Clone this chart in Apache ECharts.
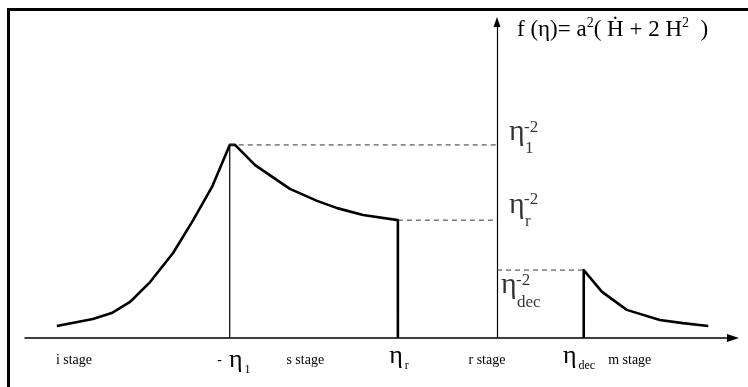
<!DOCTYPE html>
<html>
<head>
<meta charset="utf-8">
<script src="https://cdn.jsdelivr.net/npm/echarts@6/dist/echarts.min.js"></script>
<style>
html, body { margin: 0; padding: 0; background: #fff; }
body { position: relative; width: 748px; height: 387px; overflow: hidden; }
#frame { position: absolute; left: 7px; top: 8px; width: 760px; height: 400px; border-top: 3px solid #000; border-left: 3px solid #000; }
#chart { position: absolute; left: 0; top: 0; width: 748px; height: 387px; }
</style>
</head>
<body>
<div id="frame"></div>
<div id="chart"></div>
<script>
// conformal time of the transitions, and the level of f at each of them
var eta1 = -45.3, etaR = -16.8, etaDec = 14.7;
var level1 = 61.1, levelR = 37.3, levelDec = 21.5;

// i stage rising up to -eta1, then s stage decaying to eta_r
var earlyX = [-74.6, -68.5, -65.3, -62.2, -58.8, -54.9, -51.5, -48.3, eta1, -44.4, -41.0, -35.1, -30.5, -27.1, -22.7, etaR, etaR];
var earlyY = [3.8, 6.0, 7.9, 11.4, 17.7, 26.9, 37.3, 47.8, level1, level1, 54.7, 47.2, 43.4, 41.1, 38.9, levelR, 0];

// m stage after eta_dec
var lateX = [etaDec, etaDec, 17.8, 22.0, 27.6, 31.5, 35.8];
var lateY = [0, levelDec, 14.6, 8.9, 5.7, 4.7, 3.8];

// labels under the time axis
var stageTicks = [-71.7, -44.6, -32.5, -16.6, -1.7, 13.9, 22.5];
var stageLabels = ['{st|i stage}', '{st|-  }{e|η}{sub|1}', '{st|s stage}', '{e|η}{sub|r}', '{st|r stage}', '{e|η}{sub|dec}', '{st|m stage}'];

// labels of the three levels on the f axis
var levelValues = [level1, levelR, levelDec];
var levelSubs = ['1', 'r', 'dec'];

var serif = 'Liberation Serif';

function pairs(xs, ys) {
  var out = [];
  for (var i = 0; i < xs.length; i++) out.push([xs[i], ys[i]]);
  return out;
}

var curveStyle = { color: '#000', width: 2.6, join: 'round' };
var dashStyle = { color: '#333', width: 1, type: [5, 4] };

var series = [
  { type: 'line', data: pairs(earlyX, earlyY), lineStyle: curveStyle },
  { type: 'line', data: pairs(lateX, lateY), lineStyle: curveStyle },
  { type: 'line', data: [[eta1, 0], [eta1, level1]], lineStyle: { color: '#000', width: 1.2 } },
  { type: 'line', data: [[eta1, level1], [0, level1]], lineStyle: dashStyle },
  { type: 'line', data: [[etaR, levelR], [0, levelR]], lineStyle: dashStyle },
  { type: 'line', data: [[0, levelDec], [etaDec, levelDec]], lineStyle: dashStyle }
];
series.forEach(function (s) {
  s.symbol = 'none';
  s.clip = false;
  s.silent = true;
});

// η^-2 labels to the right of the f axis
var levelOffsets = [[0, -1], [0, -4], [-8, 27]];
series.push({
  type: 'scatter',
  symbolSize: 0,
  silent: true,
  data: levelValues.map(function (v) { return [0, v]; }),
  label: {
    show: true,
    position: 'right',
    distance: 12,
    fontFamily: serif,
    color: '#000',
    formatter: function (p) {
      return '{sp1| }{sup|-2}\n{e|η}\n{sp3| }{sub|' + levelSubs[p.dataIndex] + '}';
    },
    rich: {
      sp1: { width: 15, fontSize: 5, lineHeight: 5 },
      sup: { fontSize: 17, lineHeight: 5, fontFamily: serif, color: '#000' },
      e: { fontSize: 30, lineHeight: 5, fontFamily: serif, color: '#000' },
      sp3: { width: 16, fontSize: 5, lineHeight: 28 },
      sub: { fontSize: 17, lineHeight: 28, fontFamily: serif, color: '#000' }
    }
  },
  labelLayout: function (p) {
    var o = levelOffsets[p.dataIndex];
    return { dx: o[0], dy: o[1] };
  }
});

var chart = echarts.init(document.getElementById('chart'));
chart.setOption({
  animation: false,
  backgroundColor: 'transparent',
  title: {
    text: '{t|f (η)= a}{sup|2}{t|( Ḣ + 2 H}{sup|2}{t|  )}',
    left: 512,
    top: 11,
    textStyle: {
      rich: {
        t: { fontSize: 23, lineHeight: 27, fontWeight: 'normal', fontFamily: serif, color: '#000' },
        sup: { fontSize: 14, lineHeight: 14, verticalAlign: 'top', fontWeight: 'normal', fontFamily: serif, color: '#000' }
      }
    }
  },
  grid: { left: 25, right: 15, top: 22, bottom: 49 },
  xAxis: {
    type: 'value',
    min: -80,
    max: 40,
    splitLine: { show: false },
    axisTick: { show: false },
    axisLine: {
      show: true,
      symbol: ['none', 'triangle'],
      symbolSize: [8, 12],
      lineStyle: { color: '#000', width: 1.5 }
    },
    axisLabel: {
      customValues: stageTicks,
      margin: 6,
      formatter: function (v) {
        return stageLabels[stageTicks.indexOf(v)];
      },
      rich: {
        st: { fontSize: 14, lineHeight: 32, fontFamily: serif, color: '#000' },
        e: { fontSize: 26, lineHeight: 24, fontFamily: serif, color: '#000' },
        sub: { fontSize: 12, lineHeight: 12, padding: [20, 0, 0, 2], fontFamily: serif, color: '#000' }
      }
    }
  },
  yAxis: {
    type: 'value',
    min: 0,
    max: 100,
    splitLine: { show: false },
    axisTick: { show: false },
    axisLabel: { show: false },
    axisLine: {
      show: true,
      onZero: true,
      symbol: ['none', 'triangle'],
      symbolSize: [7, 10],
      lineStyle: { color: '#000', width: 1.2 }
    }
  },
  series: series
});
</script>
</body>
</html>
